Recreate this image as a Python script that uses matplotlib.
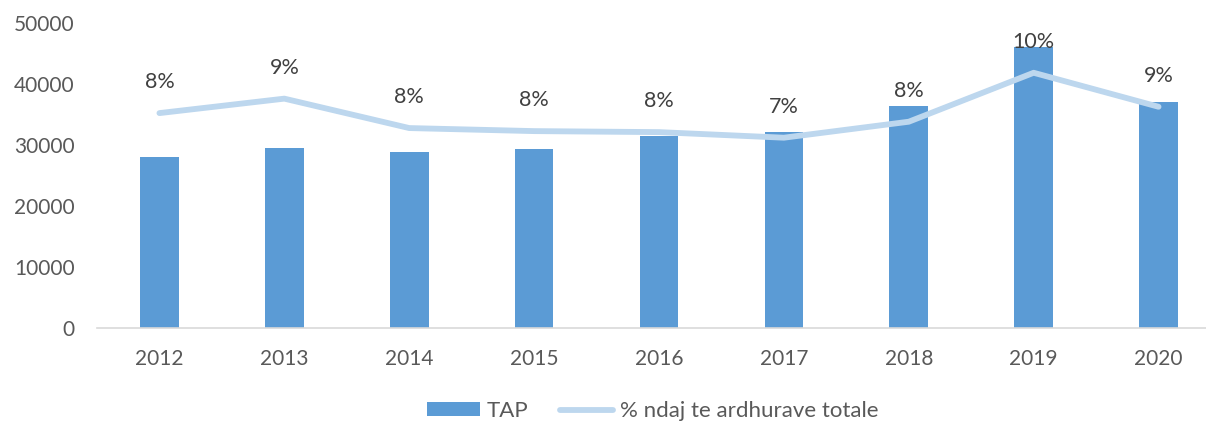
import numpy as np
import matplotlib
matplotlib.use("Agg")
import matplotlib.pyplot as plt
from matplotlib.patches import Patch
from matplotlib.lines import Line2D

# data
years = ['2012', '2013', '2014', '2015', '2016', '2017', '2018', '2019', '2020']
tap = [27980, 29560, 28850, 29340, 31480, 32090, 36450, 46140, 37110]
share = [0.0846, 0.0903, 0.0787, 0.0775, 0.0771, 0.0749, 0.0812, 0.1005, 0.0871]

bar_color = '#5B9BD5'
line_color = '#BDD7EE'
text_color = '#595959'

plt.rcParams['font.family'] = ['Lato', 'DejaVu Sans']

fig = plt.figure(figsize=(12.06, 4.23), dpi=100)
ax = fig.add_axes([97 / 1206, 95.3 / 423, 1 - 97 / 1206, 304.4 / 423])

x = np.arange(len(years))
ax.bar(x, tap, width=0.31, color=bar_color, zorder=2)
ax.set_xlim(-0.5, 8.38)
ax.set_ylim(0, 50000)
ax.set_yticks(range(0, 50001, 10000))
ax.set_xticks(x)
ax.set_xticklabels(years)
ax.tick_params(axis='both', length=0, labelsize=15, labelcolor=text_color)
ax.tick_params(axis='x', pad=15)
ax.tick_params(axis='y', pad=16)
for s in ['top', 'right', 'left']:
    ax.spines[s].set_visible(False)
ax.spines['bottom'].set_color('#D9D9D9')
ax.spines['bottom'].set_linewidth(1.2)

# secondary axis for the percentage line
ax2 = ax.twinx()
ax2.plot(x, share, color=line_color, linewidth=4.2, solid_capstyle='round', zorder=3)
ax2.set_ylim(0, 0.12)
ax2.axis('off')
for xi, v in zip(x, share):
    ax2.annotate(f"{v * 100:.0f}%", (xi, v), xytext=(0, 31), textcoords='offset pixels',
                 ha='center', va='center', fontsize=15.5, color='#404040')

handles = [Patch(facecolor=bar_color, edgecolor='none'),
           Line2D([0], [0], color=line_color, linewidth=4.2, solid_capstyle='round')]
fig.legend(handles, ['TAP', '% ndaj te ardhurave totale'], loc='center',
           bbox_to_anchor=(0.541, 0.028), ncol=2, frameon=False, fontsize=16,
           handlelength=2.4, handleheight=0.6, handletextpad=0.3, columnspacing=1.4,
           labelcolor=text_color)

fig.savefig('out.png', dpi=100)
